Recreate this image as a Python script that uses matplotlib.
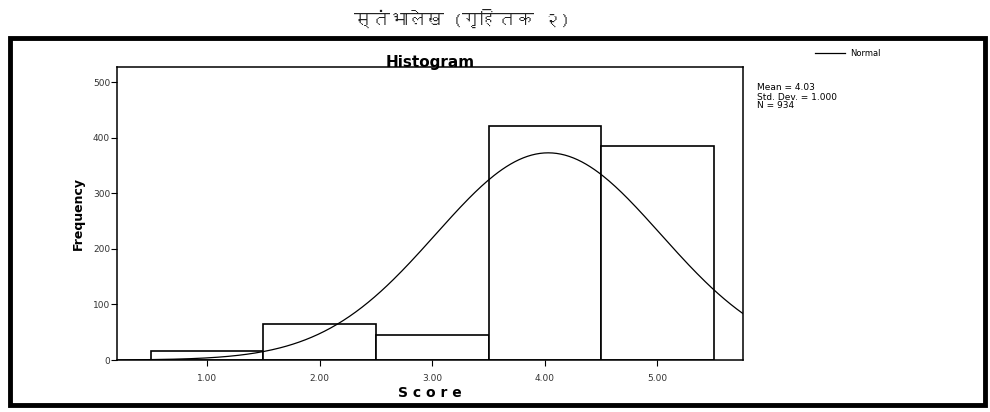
import numpy as np
import matplotlib
matplotlib.use("Agg")
import matplotlib.pyplot as plt
from matplotlib import font_manager
from matplotlib.ft2font import FT2Font
from matplotlib.patches import Rectangle

# data
scores = [1, 2, 3, 4, 5]
freq = [17, 65, 45, 420, 385]
tick_labels = ["1.00", "2.00", "3.00", "4.00", "5.00"]
mean, std, n = 4.03, 1.0, 934
header = "स्तंभालेख (गृहितक २)"


def devanagari_font():
    for f in font_manager.fontManager.ttflist:
        try:
            if 0x0938 in FT2Font(f.fname).get_charmap():
                return f.name
        except Exception:
            continue
    return None


fig = plt.figure(figsize=(9.9, 4.12), dpi=100)
fig.patch.set_facecolor("white")

# scanned-page frame
fig.patches.append(Rectangle((10 / 990, 7 / 412), 975 / 990, 367 / 412,
                             transform=fig.transFigure, fill=False,
                             lw=3.5, ec="black"))

dev = devanagari_font()
fam = [dev, "DejaVu Sans"] if dev else ["DejaVu Sans"]
fig.text(462 / 990, 1 - 18 / 412, header, ha="center", va="center",
         fontsize=13, family=fam, color="#222222")

ax = fig.add_axes([117 / 990, 1 - 360 / 412, 626 / 990, 293 / 412])
ax.bar(scores, freq, width=1.0, color="white", edgecolor="black", lw=1.2)

xs = np.linspace(0.2, 5.76, 300)
pdf = n * 1.0 / (std * np.sqrt(2 * np.pi)) * np.exp(-0.5 * ((xs - mean) / std) ** 2)
ax.plot(xs, pdf, color="black", lw=0.9)

ax.set_xlim(0.2, 5.76)
ax.set_ylim(0, 527)
ax.set_xticks(scores)
ax.set_xticklabels(tick_labels, fontsize=6.5, color="#333333")
ax.set_yticks(np.arange(0, 501, 100))
ax.tick_params(axis="y", labelsize=6.5, labelcolor="#333333", length=4,
               width=0.8, pad=1)
ax.tick_params(axis="x", length=4, width=0.8, pad=6)
for s in ax.spines.values():
    s.set_linewidth(1.1)

ax.text(0.5, 1.014, "Histogram", transform=ax.transAxes, ha="center",
        va="center", fontsize=11, fontweight="bold")
ax.set_xlabel("S c o r e", fontsize=10, fontweight="bold", labelpad=2)
ax.set_ylabel("Frequency", fontsize=9, fontweight="bold", labelpad=6)

# legend + stats box outside the axes
fig.add_artist(plt.Line2D([815 / 990, 845 / 990], [1 - 53 / 412, 1 - 53 / 412],
                          color="black", lw=0.9))
fig.text(850 / 990, 1 - 53 / 412, "Normal", fontsize=6, va="center")
fig.text(757 / 990, 1 - 97 / 412,
         f"Mean = {mean:.2f}\nStd. Dev. = {std:.3f}\nN = {n}",
         fontsize=6.5, va="center", linespacing=1.0)

fig.savefig("out.png", dpi=100)
